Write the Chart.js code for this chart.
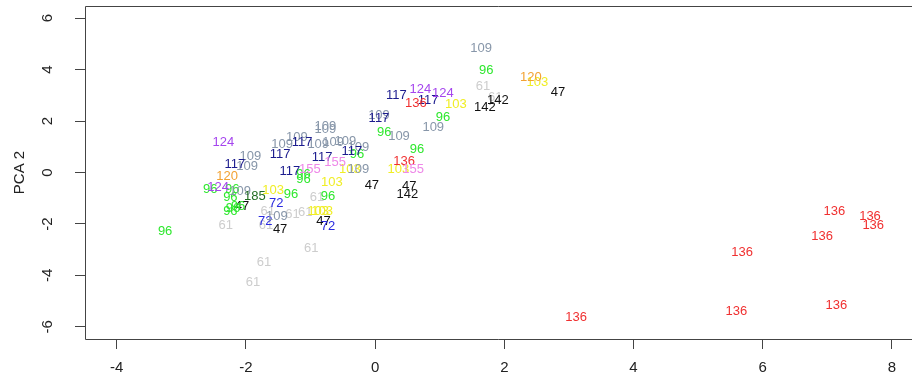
<!DOCTYPE html>
<html>
<head>
<meta charset="utf-8">
<script src="https://cdn.jsdelivr.net/npm/chart.js@4/dist/chart.umd.min.js"></script>
<style>
  html, body { margin: 0; background: #fff; overflow: hidden; }
  #wrap { width: 912px; height: 379px; }
</style>
</head>
<body>
<div id="wrap"><canvas id="pca" width="912" height="379"></canvas></div>
<script>
// group codes and the colour each one is written in
const groups      = ['47', '61', '72', '96', '103', '109', '117', '120', '124', '136', '142', '155', '185'];
const groupColors = ['#111111', '#cdcdcd', '#2a2ae0', '#2ee82e', '#f0ee25', '#8796a9', '#1c1c8e',
                     '#f2a233', '#a545ee', '#f03030', '#111111', '#ee88e8', '#236d23'];

// one entry per sample: its group, first and second component scores
const pointGroup = [
  '109', '96', '120', '103', '47', '61', '61', '142', '142', '103',
  '124', '124', '117', '117', '136', '96', '109', '117', '109', '96',
  '109', '96', '136', '103', '155', '47', '47', '142',
  '109', '109', '109', '117', '109', '109', '109', '109', '117', '96',
  '117', '155', '155', '103', '109', '117', '96', '96', '103', '96',
  '103', '96', '61', '103', '103', '61', '61', '109', '61', '61',
  '72', '47', '72', '72', '47', '185', '47',
  '124', '96', '96', '109', '96', '96', '96', '96', '120', '124',
  '117', '109', '109', '117', '109', '96', '61', '61', '61', '61',
  '136', '136', '136', '136', '136', '136', '136', '136'
];
const pc1 = [
  1.64, 1.72, 2.41, 2.51, 2.83, 1.67, 1.86, 1.90, 1.70, 1.25,
  0.70, 1.05, 0.33, 0.82, 0.63, 1.05, 0.90, 0.06, 0.06, 0.14,
  0.37, 0.65, 0.45, 0.36, 0.59, -0.05, 0.53, 0.50,
  -0.77, -0.77, -1.21, -1.13, -0.88, -0.65, -0.46, -0.26, -0.36, -0.28,
  -0.82, -0.62, -1.01, -0.39, -0.26, -1.32, -1.11, -1.11, -0.67, -1.30,
  -1.58, -0.73, -0.90, -0.88, -0.82, -1.28, -1.08, -1.52, -1.66, -1.69,
  -0.73, -0.80, -1.53, -1.70, -1.47, -1.86, -2.06,
  -2.43, -2.55, -2.21, -2.09, -2.24, -2.24, -2.12, -2.20, -2.29, -2.35,
  -2.17, -1.93, -1.98, -1.47, -1.44, -3.25, -2.31, -1.72, -1.89, -0.99,
  7.11, 7.66, 7.71, 6.92, 5.68, 5.59, 7.14, 3.11
];
const pc2 = [
  4.82, 3.96, 3.69, 3.50, 3.11, 3.34, 2.91, 2.80, 2.52, 2.64,
  3.22, 3.07, 2.99, 2.80, 2.68, 2.14, 1.75, 2.10, 2.21, 1.55,
  1.40, 0.89, 0.43, 0.12, 0.12, -0.50, -0.54, -0.85,
  1.79, 1.67, 1.36, 1.17, 1.09, 1.17, 1.20, 0.97, 0.82, 0.70,
  0.58, 0.39, 0.12, 0.12, 0.12, 0.04, -0.08, -0.27, -0.39, -0.85,
  -0.70, -0.93, -0.97, -1.50, -1.50, -1.63, -1.55, -1.71, -1.51, -2.06,
  -2.10, -1.90, -1.20, -1.90, -2.21, -0.93, -1.32,
  -0.58, -0.66, -0.66, -0.74, -0.97, -1.52, -1.32, -1.40, -0.16, 1.17,
  0.31, 0.62, 0.23, 0.70, 1.09, -2.29, -2.06, -3.50, -4.27, -2.95,
  -1.52, -1.71, -2.06, -2.49, -3.11, -5.40, -5.17, -5.63
];

const xTicks = [-4, -2, 0, 2, 4, 6, 8];
const yTicks = [-6, -4, -2, 0, 2, 4, 6];
const yTitle = 'PCA 2';

const FONT = 'Liberation Sans, Arial, Helvetica, sans-serif';

const datasets = groups.map((g, gi) => {
  const pts = [];
  pointGroup.forEach((pg, i) => {
    if (pg === g) pts.push({ x: pc1[i], y: pc2[i] });
  });
  return { label: g, data: pts, color: groupColors[gi], pointRadius: 0, pointHoverRadius: 0 };
});

// write each group code at its point instead of a marker
const textMarks = {
  id: 'textMarks',
  afterDatasetsDraw(chart) {
    const ctx = chart.ctx;
    ctx.save();
    ctx.font = '13px ' + FONT;
    ctx.textAlign = 'center';
    ctx.textBaseline = 'middle';
    chart.data.datasets.forEach((ds, di) => {
      ctx.fillStyle = ds.color;
      chart.getDatasetMeta(di).data.forEach(el => ctx.fillText(ds.label, el.x, el.y));
    });
    ctx.restore();
  }
};

// plot box (open on the right, it runs past the canvas), rotated y labels and the y title
const frame = {
  id: 'frame',
  afterDraw(chart) {
    const { ctx, chartArea: a, scales } = chart;
    const l = a.left + 0.5, t = a.top + 0.5, b = a.bottom + 0.5, r = chart.width;
    ctx.save();
    ctx.strokeStyle = '#444';
    ctx.lineWidth = 1;
    ctx.beginPath();
    ctx.moveTo(r, t); ctx.lineTo(l, t); ctx.lineTo(l, b); ctx.lineTo(r, b);
    ctx.stroke();

    ctx.fillStyle = '#222';
    ctx.font = '15px ' + FONT;
    ctx.textAlign = 'center';
    ctx.textBaseline = 'middle';
    yTicks.forEach(v => {
      ctx.save();
      ctx.translate(48, scales.y.getPixelForValue(v));
      ctx.rotate(-Math.PI / 2);
      ctx.fillText(String(v), 0, 0);
      ctx.restore();
    });
    ctx.save();
    ctx.translate(20, scales.y.getPixelForValue(0));
    ctx.rotate(-Math.PI / 2);
    ctx.fillText(yTitle, 0, 0);
    ctx.restore();
    ctx.restore();
  }
};

new Chart(document.getElementById('pca'), {
  type: 'scatter',
  data: { datasets },
  options: {
    responsive: false,
    animation: false,
    events: [],
    layout: { padding: { top: 6, right: 0, left: 0, bottom: 0 } },
    plugins: { legend: { display: false }, tooltip: { enabled: false } },
    scales: {
      x: {
        type: 'linear',
        min: -4.49,
        max: 8.31,
        afterFit: s => { s.height = 40; },
        afterBuildTicks: s => { s.ticks = xTicks.map(v => ({ value: v })); },
        grid: { drawOnChartArea: false, tickLength: 10, color: '#444' },
        border: { display: false },
        ticks: { font: { family: FONT, size: 15 }, color: '#222', padding: 10, maxRotation: 0, autoSkip: false }
      },
      y: {
        type: 'linear',
        min: -6.47,
        max: 6.47,
        afterFit: s => { s.width = 85; },
        afterBuildTicks: s => { s.ticks = yTicks.map(v => ({ value: v })); },
        grid: { drawOnChartArea: false, tickLength: 10, color: '#444' },
        border: { display: false },
        ticks: { display: false }
      }
    }
  },
  plugins: [textMarks, frame]
});
</script>
</body>
</html>
